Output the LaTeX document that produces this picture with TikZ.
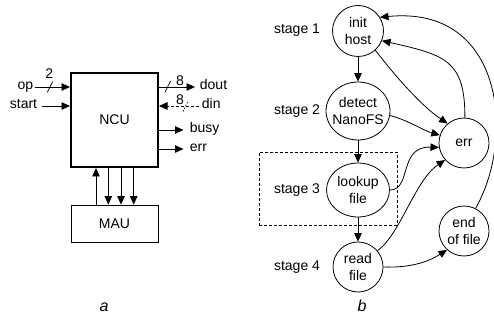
\documentclass[tikz,border=0pt]{standalone}
\usepackage{fontspec}
\setmainfont{Liberation Sans}
\usetikzlibrary{arrows.meta,shapes.geometric}
\begin{document}
\begin{tikzpicture}[x=1pt,y=-1pt,
  font=\fontsize{14}{17.5}\selectfont,
  line width=0.8pt,
  arr/.style={-{Triangle[length=8.5pt,width=7.5pt]}},
  lbl/.style={inner sep=0pt},
  state/.style={draw,circle,inner sep=0pt,minimum size=50pt,align=center},
  oval/.style={draw,ellipse,inner xsep=-8pt,inner ysep=0pt,align=center},
  busline/.style={line width=0.7pt},
  caption/.style={inner sep=0pt,font=\fontsize{16}{18}\selectfont\itshape},
]
\useasboundingbox (0,0) rectangle (494,320);

% ---------- (a) block diagram ----------
\node[draw,line width=2pt,minimum width=87pt,minimum height=94pt,inner sep=0pt] (ncu) at (114.5,120) {NCU};
\node[draw,minimum width=87pt,minimum height=37pt,inner sep=0pt] (mau) at (114.5,223.5) {MAU};

% inputs
\node[lbl,anchor=mid east] (op) at (33.5,87) {op};
\node[lbl,anchor=mid east] (start) at (37.5,106) {start};
\coordinate (opin) at (35,87);
\coordinate (startin) at (42,106);
\draw[arr] (opin) -- (opin -| ncu.west);
\draw[arr] (startin) -- (startin -| ncu.west);
\draw[busline] (47.3,92.3) -- (52.7,81.7);
\node[lbl] (opwidth) at (49.3,74) {2};

% outputs
\coordinate (doutend) at (195,87);
\coordinate (dinstart) at (199,106);
\coordinate (busyend) at (183.5,130);
\coordinate (errend) at (183.5,149);
\draw[arr] (doutend -| ncu.east) -- (doutend);
\draw[arr,dash pattern=on 3pt off 2pt] (dinstart) -- (dinstart -| ncu.east);
\draw[arr] (busyend -| ncu.east) -- (busyend);
\draw[arr] (errend -| ncu.east) -- (errend);
\draw[busline] (165,92.3) -- (170.5,81);
\draw[busline,dash pattern=on 1.5pt off 1.5pt] (183,111.5) -- (188,101);
\node[lbl] (doutwidth) at (180,80.5) {8};
\node[lbl] (dinwidth) at (180,99.5) {8};
\node[lbl,anchor=mid west] (dout) at (199.5,87) {dout};
\node[lbl,anchor=mid west] (din) at (201.5,106) {din};
\node[lbl,anchor=mid west] (busy) at (189.5,130) {busy};
\node[lbl,anchor=mid west] (errout) at (189.5,149) {err};

% NCU <-> MAU links
\coordinate (l1) at (96,0);
\coordinate (l2) at (108.3,0);
\coordinate (l3) at (121,0);
\coordinate (l4) at (133.7,0);
\draw[arr] (mau.north -| l1) -- (ncu.south -| l1);
\draw[arr] (ncu.south -| l2) -- (mau.north -| l2);
\draw[arr] (ncu.south -| l3) -- (mau.north -| l3);
\draw[arr] (ncu.south -| l4) -- (mau.north -| l4);

\node[caption] (capa) at (104,307) {a};

% ---------- (b) stage graph ----------
\node[draw,dash pattern=on 3pt off 2pt,minimum width=138pt,minimum height=73pt,inner sep=0pt] (stagebox) at (328,188.5) {};

\node[state,minimum size=51pt] (init) at (358,31) {init\\host};
\node[oval,minimum width=64pt,minimum height=58pt] (detect) at (358,111) {detect\\NanoFS};
\node[oval,minimum width=63pt,minimum height=54pt] (lookup) at (358,190) {lookup\\file};
\node[state] (read) at (358,267) {read\\file};
\node[state] (err) at (464,143) {err};
\node[state] (eof) at (464,231) {end\\of file};

\node[lbl,anchor=mid] (s1) at (297,31) {stage 1};
\node[lbl,anchor=mid] (s2) at (297,112) {stage 2};
\node[lbl,anchor=mid] (s3) at (297,191) {stage 3};
\node[lbl,anchor=mid] (s4) at (297,268) {stage 4};

\draw[arr] (init) -- (detect);
\draw[arr] (detect) -- (lookup);
\draw[arr] (lookup) -- (read);

\draw[arr] (init.-48) .. controls (392,72) and (420,105) .. (err.130);
\draw[arr] (detect.-8) .. controls (410,121) and (422,130) .. (err.162);
\draw[arr] (lookup.east) .. controls (412,190) and (398,146) .. (err.190);
\draw[arr] (read.40) .. controls (400,235) and (415,180) .. (err.222);
\draw[arr] (read.east) .. controls (410,268) and (428,262) .. (eof.228);
\draw[arr] (err.88) .. controls (465,60) and (445,55) .. (init.-22);
\draw[arr] (eof.63) .. controls (515,140) and (505,5) .. (init.32);

\node[caption] (capb) at (362,306) {b};
\end{tikzpicture}
\end{document}
